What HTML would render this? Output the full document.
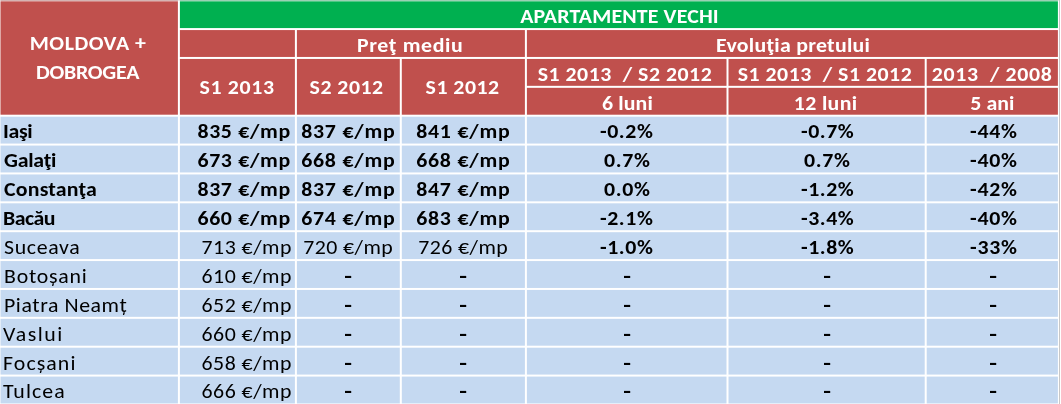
<!DOCTYPE html>
<html><head><meta charset="utf-8"><title>Apartamente vechi - Moldova + Dobrogea</title><style>
html,body{margin:0;padding:0;background:#fff;width:1061px;height:404px;overflow:hidden}
#w{position:relative;width:1061px;height:404px}
svg{position:absolute;left:0;top:0}
.t{position:absolute;height:29px;line-height:29px;font-family:"Carlito","Liberation Sans",sans-serif;font-size:21px;white-space:nowrap}
.t span{display:inline-block}
.b{font-weight:bold;font-size-adjust:ex-height 0.4849}
.n{font-weight:normal;font-size-adjust:ex-height 0.4775}
.w{color:#fff}
.k{color:#000}
</style></head><body><div id="w">
<svg width="1061" height="404" viewBox="0 0 1061 404">
<rect x="1059" y="0" width="1" height="404" fill="#c8c8c8"/>
<rect x="0.50" y="0.00" width="177.40" height="114.70" fill="#C0504D"/>
<rect x="179.90" y="0.00" width="878.00" height="28.07" fill="#00B050"/>
<rect x="179.90" y="30.07" width="115.00" height="26.88" fill="#C0504D"/>
<rect x="296.90" y="30.07" width="228.00" height="26.88" fill="#C0504D"/>
<rect x="526.90" y="30.07" width="531.00" height="26.88" fill="#C0504D"/>
<rect x="179.90" y="58.95" width="115.00" height="55.75" fill="#C0504D"/>
<rect x="296.90" y="58.95" width="102.90" height="55.75" fill="#C0504D"/>
<rect x="401.80" y="58.95" width="123.10" height="55.75" fill="#C0504D"/>
<rect x="526.90" y="58.95" width="199.60" height="26.88" fill="#C0504D"/>
<rect x="728.50" y="58.95" width="196.20" height="26.88" fill="#C0504D"/>
<rect x="926.70" y="58.95" width="131.20" height="26.88" fill="#C0504D"/>
<rect x="526.90" y="87.83" width="199.60" height="26.88" fill="#C0504D"/>
<rect x="728.50" y="87.83" width="196.20" height="26.88" fill="#C0504D"/>
<rect x="926.70" y="87.83" width="131.20" height="26.88" fill="#C0504D"/>
<rect x="0.50" y="116.70" width="177.40" height="26.87" fill="#C5D9F1"/>
<rect x="179.90" y="116.70" width="115.00" height="26.87" fill="#C5D9F1"/>
<rect x="296.90" y="116.70" width="102.90" height="26.87" fill="#C5D9F1"/>
<rect x="401.80" y="116.70" width="123.10" height="26.87" fill="#C5D9F1"/>
<rect x="526.90" y="116.70" width="199.60" height="26.87" fill="#C5D9F1"/>
<rect x="728.50" y="116.70" width="196.20" height="26.87" fill="#C5D9F1"/>
<rect x="926.70" y="116.70" width="131.20" height="26.87" fill="#C5D9F1"/>
<rect x="0.50" y="145.57" width="177.40" height="26.88" fill="#C5D9F1"/>
<rect x="179.90" y="145.57" width="115.00" height="26.88" fill="#C5D9F1"/>
<rect x="296.90" y="145.57" width="102.90" height="26.88" fill="#C5D9F1"/>
<rect x="401.80" y="145.57" width="123.10" height="26.88" fill="#C5D9F1"/>
<rect x="526.90" y="145.57" width="199.60" height="26.88" fill="#C5D9F1"/>
<rect x="728.50" y="145.57" width="196.20" height="26.88" fill="#C5D9F1"/>
<rect x="926.70" y="145.57" width="131.20" height="26.88" fill="#C5D9F1"/>
<rect x="0.50" y="174.45" width="177.40" height="26.88" fill="#C5D9F1"/>
<rect x="179.90" y="174.45" width="115.00" height="26.88" fill="#C5D9F1"/>
<rect x="296.90" y="174.45" width="102.90" height="26.88" fill="#C5D9F1"/>
<rect x="401.80" y="174.45" width="123.10" height="26.88" fill="#C5D9F1"/>
<rect x="526.90" y="174.45" width="199.60" height="26.88" fill="#C5D9F1"/>
<rect x="728.50" y="174.45" width="196.20" height="26.88" fill="#C5D9F1"/>
<rect x="926.70" y="174.45" width="131.20" height="26.88" fill="#C5D9F1"/>
<rect x="0.50" y="203.32" width="177.40" height="26.88" fill="#C5D9F1"/>
<rect x="179.90" y="203.32" width="115.00" height="26.88" fill="#C5D9F1"/>
<rect x="296.90" y="203.32" width="102.90" height="26.88" fill="#C5D9F1"/>
<rect x="401.80" y="203.32" width="123.10" height="26.88" fill="#C5D9F1"/>
<rect x="526.90" y="203.32" width="199.60" height="26.88" fill="#C5D9F1"/>
<rect x="728.50" y="203.32" width="196.20" height="26.88" fill="#C5D9F1"/>
<rect x="926.70" y="203.32" width="131.20" height="26.88" fill="#C5D9F1"/>
<rect x="0.50" y="232.20" width="177.40" height="26.88" fill="#C5D9F1"/>
<rect x="179.90" y="232.20" width="115.00" height="26.88" fill="#C5D9F1"/>
<rect x="296.90" y="232.20" width="102.90" height="26.88" fill="#C5D9F1"/>
<rect x="401.80" y="232.20" width="123.10" height="26.88" fill="#C5D9F1"/>
<rect x="526.90" y="232.20" width="199.60" height="26.88" fill="#C5D9F1"/>
<rect x="728.50" y="232.20" width="196.20" height="26.88" fill="#C5D9F1"/>
<rect x="926.70" y="232.20" width="131.20" height="26.88" fill="#C5D9F1"/>
<rect x="0.50" y="261.07" width="177.40" height="26.88" fill="#C5D9F1"/>
<rect x="179.90" y="261.07" width="115.00" height="26.88" fill="#C5D9F1"/>
<rect x="296.90" y="261.07" width="102.90" height="26.88" fill="#C5D9F1"/>
<rect x="401.80" y="261.07" width="123.10" height="26.88" fill="#C5D9F1"/>
<rect x="526.90" y="261.07" width="199.60" height="26.88" fill="#C5D9F1"/>
<rect x="728.50" y="261.07" width="196.20" height="26.88" fill="#C5D9F1"/>
<rect x="926.70" y="261.07" width="131.20" height="26.88" fill="#C5D9F1"/>
<rect x="0.50" y="289.95" width="177.40" height="26.88" fill="#C5D9F1"/>
<rect x="179.90" y="289.95" width="115.00" height="26.88" fill="#C5D9F1"/>
<rect x="296.90" y="289.95" width="102.90" height="26.88" fill="#C5D9F1"/>
<rect x="401.80" y="289.95" width="123.10" height="26.88" fill="#C5D9F1"/>
<rect x="526.90" y="289.95" width="199.60" height="26.88" fill="#C5D9F1"/>
<rect x="728.50" y="289.95" width="196.20" height="26.88" fill="#C5D9F1"/>
<rect x="926.70" y="289.95" width="131.20" height="26.88" fill="#C5D9F1"/>
<rect x="0.50" y="318.82" width="177.40" height="26.88" fill="#C5D9F1"/>
<rect x="179.90" y="318.82" width="115.00" height="26.88" fill="#C5D9F1"/>
<rect x="296.90" y="318.82" width="102.90" height="26.88" fill="#C5D9F1"/>
<rect x="401.80" y="318.82" width="123.10" height="26.88" fill="#C5D9F1"/>
<rect x="526.90" y="318.82" width="199.60" height="26.88" fill="#C5D9F1"/>
<rect x="728.50" y="318.82" width="196.20" height="26.88" fill="#C5D9F1"/>
<rect x="926.70" y="318.82" width="131.20" height="26.88" fill="#C5D9F1"/>
<rect x="0.50" y="347.70" width="177.40" height="26.88" fill="#C5D9F1"/>
<rect x="179.90" y="347.70" width="115.00" height="26.88" fill="#C5D9F1"/>
<rect x="296.90" y="347.70" width="102.90" height="26.88" fill="#C5D9F1"/>
<rect x="401.80" y="347.70" width="123.10" height="26.88" fill="#C5D9F1"/>
<rect x="526.90" y="347.70" width="199.60" height="26.88" fill="#C5D9F1"/>
<rect x="728.50" y="347.70" width="196.20" height="26.88" fill="#C5D9F1"/>
<rect x="926.70" y="347.70" width="131.20" height="26.88" fill="#C5D9F1"/>
<rect x="0.50" y="376.57" width="177.40" height="26.88" fill="#C5D9F1"/>
<rect x="179.90" y="376.57" width="115.00" height="26.88" fill="#C5D9F1"/>
<rect x="296.90" y="376.57" width="102.90" height="26.88" fill="#C5D9F1"/>
<rect x="401.80" y="376.57" width="123.10" height="26.88" fill="#C5D9F1"/>
<rect x="526.90" y="376.57" width="199.60" height="26.88" fill="#C5D9F1"/>
<rect x="728.50" y="376.57" width="196.20" height="26.88" fill="#C5D9F1"/>
<rect x="926.70" y="376.57" width="131.20" height="26.88" fill="#C5D9F1"/>
<rect x="0" y="0" width="1059" height="1" fill="#dedede" fill-opacity="0.7"/>
<rect x="0" y="1" width="1059" height="1" fill="#ffffff" fill-opacity="0.3"/>
</svg>
<div class="t b w" style="left:-61.77px;width:300px;text-align:center;top:29px"><span id="h_mold1" style="letter-spacing:0.500px;transform:scaleX(1.0400);transform-origin:50% 0;">MOLDOVA +</span></div>
<div class="t b w" style="left:-62.66px;width:300px;text-align:center;top:58px"><span id="h_mold2" style="letter-spacing:-0.247px;transform:scaleX(1.0400);transform-origin:50% 0;">DOBROGEA</span></div>
<div class="t b w" style="left:469.99px;width:300px;text-align:center;top:2px"><span id="h_apt" style="letter-spacing:0.151px;transform:scaleX(1.0400);transform-origin:50% 0;">APARTAMENTE VECHI</span></div>
<div class="t b w" style="left:260.46px;width:300px;text-align:center;top:31px"><span id="h_pret" style="letter-spacing:0.613px;transform:scaleX(1.0400);transform-origin:50% 0;">Preţ mediu</span></div>
<div class="t b w" style="left:643.32px;width:300px;text-align:center;top:31px"><span id="h_evo" style="letter-spacing:0.262px;transform:scaleX(1.0400);transform-origin:50% 0;">Evoluţia pretului</span></div>
<div class="t b w" style="left:87.45px;width:300px;text-align:center;top:73px"><span id="h_s1" style="letter-spacing:0.612px;transform:scaleX(1.0400);transform-origin:50% 0;">S1 2013</span></div>
<div class="t b w" style="left:196.68px;width:300px;text-align:center;top:73px"><span id="h_s2" style="letter-spacing:0.468px;transform:scaleX(1.0400);transform-origin:50% 0;">S2 2012</span></div>
<div class="t b w" style="left:312.18px;width:300px;text-align:center;top:73px"><span id="h_s3" style="letter-spacing:0.468px;transform:scaleX(1.0400);transform-origin:50% 0;">S1 2012</span></div>
<div class="t b w" style="left:475.13px;width:300px;text-align:center;top:60px"><span id="h_p4" style="letter-spacing:0.491px;transform:scaleX(1.0400);transform-origin:50% 0;">S1 2013  / S2 2012</span></div>
<div class="t b w" style="left:675.03px;width:300px;text-align:center;top:60px"><span id="h_p5" style="letter-spacing:0.491px;transform:scaleX(1.0400);transform-origin:50% 0;">S1 2013  / S1 2012</span></div>
<div class="t b w" style="left:841.92px;width:300px;text-align:center;top:60px"><span id="h_p6" style="letter-spacing:0.657px;transform:scaleX(1.0400);transform-origin:50% 0;">2013  / 2008</span></div>
<div class="t b w" style="left:477.03px;width:300px;text-align:center;top:89px"><span id="h_l4" style="letter-spacing:0.110px;transform:scaleX(1.0400);transform-origin:50% 0;">6 luni</span></div>
<div class="t b w" style="left:675.29px;width:300px;text-align:center;top:89px"><span id="h_l5" style="letter-spacing:0.330px;transform:scaleX(1.0400);transform-origin:50% 0;">12 luni</span></div>
<div class="t b w" style="left:842.40px;width:300px;text-align:center;top:89px"><span id="h_l6" style="letter-spacing:0.111px;transform:scaleX(1.0400);transform-origin:50% 0;">5 ani</span></div>
<div class="t b k" style="left:2.94px;text-align:left;top:117px"><span id="d4_0" style="letter-spacing:-0.346px;transform:scaleX(1.0400);transform-origin:0 0;">Iaşi</span></div>
<div class="t b k" style="left:-9.14px;width:300px;text-align:right;top:117px"><span id="d4_1" style="letter-spacing:0.635px;transform:scaleX(1.0400);transform-origin:100% 0;">835 €/mp</span></div>
<div class="t b k" style="left:198.56px;width:300px;text-align:center;top:117px"><span id="d4_2" style="letter-spacing:0.741px;transform:scaleX(1.0400);transform-origin:50% 0;">837 €/mp</span></div>
<div class="t b k" style="left:313.56px;width:300px;text-align:center;top:117px"><span id="d4_3" style="letter-spacing:0.741px;transform:scaleX(1.0400);transform-origin:50% 0;">841 €/mp</span></div>
<div class="t b k" style="left:476.85px;width:300px;text-align:center;top:117px"><span id="d4_4" style="letter-spacing:0.542px;transform:scaleX(1.0400);transform-origin:50% 0;">-0.2%</span></div>
<div class="t b k" style="left:677.27px;width:300px;text-align:center;top:117px"><span id="d4_5" style="letter-spacing:0.531px;transform:scaleX(1.0400);transform-origin:50% 0;">-0.7%</span></div>
<div class="t b k" style="left:843.54px;width:300px;text-align:center;top:117px"><span id="d4_6" style="letter-spacing:0.633px;transform:scaleX(1.0400);transform-origin:50% 0;">-44%</span></div>
<div class="t b k" style="left:3.98px;text-align:left;top:146px"><span id="d5_0" style="letter-spacing:-0.231px;transform:scaleX(1.0400);transform-origin:0 0;">Galaţi</span></div>
<div class="t b k" style="left:-9.14px;width:300px;text-align:right;top:146px"><span id="d5_1" style="letter-spacing:0.635px;transform:scaleX(1.0400);transform-origin:100% 0;">673 €/mp</span></div>
<div class="t b k" style="left:198.56px;width:300px;text-align:center;top:146px"><span id="d5_2" style="letter-spacing:0.741px;transform:scaleX(1.0400);transform-origin:50% 0;">668 €/mp</span></div>
<div class="t b k" style="left:313.56px;width:300px;text-align:center;top:146px"><span id="d5_3" style="letter-spacing:0.741px;transform:scaleX(1.0400);transform-origin:50% 0;">668 €/mp</span></div>
<div class="t b k" style="left:477.42px;width:300px;text-align:center;top:146px"><span id="d5_4" style="letter-spacing:0.618px;transform:scaleX(1.0400);transform-origin:50% 0;">0.7%</span></div>
<div class="t b k" style="left:677.32px;width:300px;text-align:center;top:146px"><span id="d5_5" style="letter-spacing:0.618px;transform:scaleX(1.0400);transform-origin:50% 0;">0.7%</span></div>
<div class="t b k" style="left:843.54px;width:300px;text-align:center;top:146px"><span id="d5_6" style="letter-spacing:0.633px;transform:scaleX(1.0400);transform-origin:50% 0;">-40%</span></div>
<div class="t b k" style="left:4.23px;text-align:left;top:175px"><span id="d6_0" style="letter-spacing:0.194px;transform:scaleX(1.0400);transform-origin:0 0;">Constanţa</span></div>
<div class="t b k" style="left:-9.14px;width:300px;text-align:right;top:175px"><span id="d6_1" style="letter-spacing:0.635px;transform:scaleX(1.0400);transform-origin:100% 0;">837 €/mp</span></div>
<div class="t b k" style="left:198.56px;width:300px;text-align:center;top:175px"><span id="d6_2" style="letter-spacing:0.741px;transform:scaleX(1.0400);transform-origin:50% 0;">837 €/mp</span></div>
<div class="t b k" style="left:313.56px;width:300px;text-align:center;top:175px"><span id="d6_3" style="letter-spacing:0.741px;transform:scaleX(1.0400);transform-origin:50% 0;">847 €/mp</span></div>
<div class="t b k" style="left:477.42px;width:300px;text-align:center;top:175px"><span id="d6_4" style="letter-spacing:0.618px;transform:scaleX(1.0400);transform-origin:50% 0;">0.0%</span></div>
<div class="t b k" style="left:677.27px;width:300px;text-align:center;top:175px"><span id="d6_5" style="letter-spacing:0.531px;transform:scaleX(1.0400);transform-origin:50% 0;">-1.2%</span></div>
<div class="t b k" style="left:843.54px;width:300px;text-align:center;top:175px"><span id="d6_6" style="letter-spacing:0.633px;transform:scaleX(1.0400);transform-origin:50% 0;">-42%</span></div>
<div class="t b k" style="left:3.19px;text-align:left;top:204px"><span id="d7_0" style="letter-spacing:-0.493px;transform:scaleX(1.0400);transform-origin:0 0;">Bacău</span></div>
<div class="t b k" style="left:-9.14px;width:300px;text-align:right;top:204px"><span id="d7_1" style="letter-spacing:0.635px;transform:scaleX(1.0400);transform-origin:100% 0;">660 €/mp</span></div>
<div class="t b k" style="left:198.56px;width:300px;text-align:center;top:204px"><span id="d7_2" style="letter-spacing:0.741px;transform:scaleX(1.0400);transform-origin:50% 0;">674 €/mp</span></div>
<div class="t b k" style="left:313.56px;width:300px;text-align:center;top:204px"><span id="d7_3" style="letter-spacing:0.741px;transform:scaleX(1.0400);transform-origin:50% 0;">683 €/mp</span></div>
<div class="t b k" style="left:476.85px;width:300px;text-align:center;top:204px"><span id="d7_4" style="letter-spacing:0.542px;transform:scaleX(1.0400);transform-origin:50% 0;">-2.1%</span></div>
<div class="t b k" style="left:677.27px;width:300px;text-align:center;top:204px"><span id="d7_5" style="letter-spacing:0.531px;transform:scaleX(1.0400);transform-origin:50% 0;">-3.4%</span></div>
<div class="t b k" style="left:843.54px;width:300px;text-align:center;top:204px"><span id="d7_6" style="letter-spacing:0.633px;transform:scaleX(1.0400);transform-origin:50% 0;">-40%</span></div>
<div class="t n k" style="left:3.68px;text-align:left;top:233px"><span id="d8_0" style="letter-spacing:0.660px;transform:scaleX(1.0400);transform-origin:0 0;">Suceava</span></div>
<div class="t n k" style="left:-8.26px;width:300px;text-align:right;top:233px"><span id="d8_1" style="letter-spacing:0.478px;transform:scaleX(1.0400);transform-origin:100% 0;">713 €/mp</span></div>
<div class="t n k" style="left:198.40px;width:300px;text-align:center;top:233px"><span id="d8_2" style="letter-spacing:0.412px;transform:scaleX(1.0400);transform-origin:50% 0;">720 €/mp</span></div>
<div class="t n k" style="left:313.40px;width:300px;text-align:center;top:233px"><span id="d8_3" style="letter-spacing:0.412px;transform:scaleX(1.0400);transform-origin:50% 0;">726 €/mp</span></div>
<div class="t b k" style="left:476.85px;width:300px;text-align:center;top:233px"><span id="d8_4" style="letter-spacing:0.542px;transform:scaleX(1.0400);transform-origin:50% 0;">-1.0%</span></div>
<div class="t b k" style="left:677.27px;width:300px;text-align:center;top:233px"><span id="d8_5" style="letter-spacing:0.531px;transform:scaleX(1.0400);transform-origin:50% 0;">-1.8%</span></div>
<div class="t b k" style="left:843.54px;width:300px;text-align:center;top:233px"><span id="d8_6" style="letter-spacing:0.633px;transform:scaleX(1.0400);transform-origin:50% 0;">-33%</span></div>
<div class="t n k" style="left:3.64px;text-align:left;top:262px"><span id="d9_0" style="letter-spacing:0.731px;transform:scaleX(1.0400);transform-origin:0 0;">Botoșani</span></div>
<div class="t n k" style="left:-8.26px;width:300px;text-align:right;top:262px"><span id="d9_1" style="letter-spacing:0.478px;transform:scaleX(1.0400);transform-origin:100% 0;">610 €/mp</span></div>
<div class="t b k" style="left:198.16px;width:300px;text-align:center;top:262px"><span id="d9_2" style="transform:scaleX(1.2000);transform-origin:50% 0;">-</span></div>
<div class="t b k" style="left:313.16px;width:300px;text-align:center;top:262px"><span id="d9_3" style="transform:scaleX(1.2000);transform-origin:50% 0;">-</span></div>
<div class="t b k" style="left:477.13px;width:300px;text-align:center;top:262px"><span id="d9_4" style="transform:scaleX(1.2000);transform-origin:50% 0;">-</span></div>
<div class="t b k" style="left:677.01px;width:300px;text-align:center;top:262px"><span id="d9_5" style="transform:scaleX(1.2000);transform-origin:50% 0;">-</span></div>
<div class="t b k" style="left:843.26px;width:300px;text-align:center;top:262px"><span id="d9_6" style="transform:scaleX(1.2000);transform-origin:50% 0;">-</span></div>
<div class="t n k" style="left:3.64px;text-align:left;top:291px"><span id="d10_0" style="letter-spacing:0.559px;transform:scaleX(1.0400);transform-origin:0 0;">Piatra Neamț</span></div>
<div class="t n k" style="left:-8.26px;width:300px;text-align:right;top:291px"><span id="d10_1" style="letter-spacing:0.478px;transform:scaleX(1.0400);transform-origin:100% 0;">652 €/mp</span></div>
<div class="t b k" style="left:198.16px;width:300px;text-align:center;top:291px"><span id="d10_2" style="transform:scaleX(1.2000);transform-origin:50% 0;">-</span></div>
<div class="t b k" style="left:313.16px;width:300px;text-align:center;top:291px"><span id="d10_3" style="transform:scaleX(1.2000);transform-origin:50% 0;">-</span></div>
<div class="t b k" style="left:477.13px;width:300px;text-align:center;top:291px"><span id="d10_4" style="transform:scaleX(1.2000);transform-origin:50% 0;">-</span></div>
<div class="t b k" style="left:677.01px;width:300px;text-align:center;top:291px"><span id="d10_5" style="transform:scaleX(1.2000);transform-origin:50% 0;">-</span></div>
<div class="t b k" style="left:843.26px;width:300px;text-align:center;top:291px"><span id="d10_6" style="transform:scaleX(1.2000);transform-origin:50% 0;">-</span></div>
<div class="t n k" style="left:3.18px;text-align:left;top:320px"><span id="d11_0" style="letter-spacing:1.458px;transform:scaleX(1.0400);transform-origin:0 0;">Vaslui</span></div>
<div class="t n k" style="left:-8.26px;width:300px;text-align:right;top:320px"><span id="d11_1" style="letter-spacing:0.478px;transform:scaleX(1.0400);transform-origin:100% 0;">660 €/mp</span></div>
<div class="t b k" style="left:198.16px;width:300px;text-align:center;top:320px"><span id="d11_2" style="transform:scaleX(1.2000);transform-origin:50% 0;">-</span></div>
<div class="t b k" style="left:313.16px;width:300px;text-align:center;top:320px"><span id="d11_3" style="transform:scaleX(1.2000);transform-origin:50% 0;">-</span></div>
<div class="t b k" style="left:477.13px;width:300px;text-align:center;top:320px"><span id="d11_4" style="transform:scaleX(1.2000);transform-origin:50% 0;">-</span></div>
<div class="t b k" style="left:677.01px;width:300px;text-align:center;top:320px"><span id="d11_5" style="transform:scaleX(1.2000);transform-origin:50% 0;">-</span></div>
<div class="t b k" style="left:843.26px;width:300px;text-align:center;top:320px"><span id="d11_6" style="transform:scaleX(1.2000);transform-origin:50% 0;">-</span></div>
<div class="t n k" style="left:3.44px;text-align:left;top:349px"><span id="d12_0" style="letter-spacing:1.035px;transform:scaleX(1.0400);transform-origin:0 0;">Focșani</span></div>
<div class="t n k" style="left:-8.26px;width:300px;text-align:right;top:349px"><span id="d12_1" style="letter-spacing:0.478px;transform:scaleX(1.0400);transform-origin:100% 0;">658 €/mp</span></div>
<div class="t b k" style="left:198.16px;width:300px;text-align:center;top:349px"><span id="d12_2" style="transform:scaleX(1.2000);transform-origin:50% 0;">-</span></div>
<div class="t b k" style="left:313.16px;width:300px;text-align:center;top:349px"><span id="d12_3" style="transform:scaleX(1.2000);transform-origin:50% 0;">-</span></div>
<div class="t b k" style="left:477.13px;width:300px;text-align:center;top:349px"><span id="d12_4" style="transform:scaleX(1.2000);transform-origin:50% 0;">-</span></div>
<div class="t b k" style="left:677.01px;width:300px;text-align:center;top:349px"><span id="d12_5" style="transform:scaleX(1.2000);transform-origin:50% 0;">-</span></div>
<div class="t b k" style="left:843.26px;width:300px;text-align:center;top:349px"><span id="d12_6" style="transform:scaleX(1.2000);transform-origin:50% 0;">-</span></div>
<div class="t n k" style="left:3.08px;text-align:left;top:377px"><span id="d13_0" style="letter-spacing:1.042px;transform:scaleX(1.0400);transform-origin:0 0;">Tulcea</span></div>
<div class="t n k" style="left:-8.26px;width:300px;text-align:right;top:377px"><span id="d13_1" style="letter-spacing:0.478px;transform:scaleX(1.0400);transform-origin:100% 0;">666 €/mp</span></div>
<div class="t b k" style="left:198.16px;width:300px;text-align:center;top:377px"><span id="d13_2" style="transform:scaleX(1.2000);transform-origin:50% 0;">-</span></div>
<div class="t b k" style="left:313.16px;width:300px;text-align:center;top:377px"><span id="d13_3" style="transform:scaleX(1.2000);transform-origin:50% 0;">-</span></div>
<div class="t b k" style="left:477.13px;width:300px;text-align:center;top:377px"><span id="d13_4" style="transform:scaleX(1.2000);transform-origin:50% 0;">-</span></div>
<div class="t b k" style="left:677.01px;width:300px;text-align:center;top:377px"><span id="d13_5" style="transform:scaleX(1.2000);transform-origin:50% 0;">-</span></div>
<div class="t b k" style="left:843.26px;width:300px;text-align:center;top:377px"><span id="d13_6" style="transform:scaleX(1.2000);transform-origin:50% 0;">-</span></div>
</div></body></html>
